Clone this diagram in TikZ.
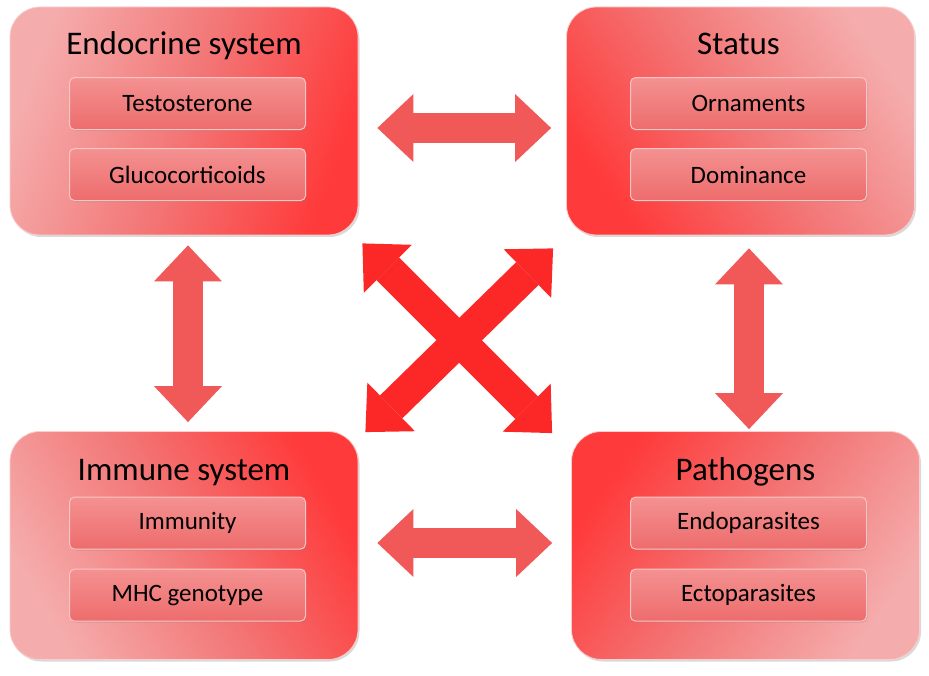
\documentclass[tikz,border=0pt]{standalone}
\usepackage{fontspec}
\setmainfont{Carlito}
\usetikzlibrary{positioning,arrows.meta,shadows}
\definecolor{boxlight}{RGB}{245,172,172}
\definecolor{boxmid}{RGB}{243,118,118}
\definecolor{boxdark}{RGB}{255,58,58}
\definecolor{itemtop}{RGB}{244,145,145}
\definecolor{itembot}{RGB}{238,108,108}
\definecolor{itemedge}{RGB}{250,196,196}
\definecolor{arrowred}{RGB}{241,88,88}
\definecolor{crossred}{RGB}{252,40,40}
\tikzset{
  groupbox/.style={rounded corners=30pt, minimum width=348pt, minimum height=228pt,
    draw=boxlight!60!white, line width=0.8pt, top color=boxdark, bottom color=boxlight,
    middle color=boxmid,
    drop shadow={opacity=0.3, shadow xshift=1.5pt, shadow yshift=-2pt}},
  grouptitle/.style={anchor=base, inner sep=0pt, font=\fontsize{33}{36}\selectfont},
  itembox/.style={rounded corners=5pt, minimum width=236pt, minimum height=52pt,
    draw=itemedge, line width=1pt, top color=itemtop, bottom color=itembot,
    font=\fontsize{25}{28}\selectfont,
    drop shadow={opacity=0.25, shadow xshift=1pt, shadow yshift=-1.5pt}},
  link/.style={line width=30pt, draw=arrowred, {Triangle[width=68pt,length=36pt,line width=0pt]}-{Triangle[width=68pt,length=36pt,line width=0pt]}},
  crosslink/.style={link, draw=crossred, line width=32pt}
}
\begin{document}
\begin{tikzpicture}[x=1pt,y=1pt]
  \useasboundingbox (0,0) rectangle (929,675);
  \node[groupbox, shading angle=-110] (endo) at (184,554) {};
  \node[groupbox, shading angle=125] (status) at (740.5,554) {};
  \node[groupbox, shading angle=-60] (immune) at (184,129.5) {};
  \node[groupbox, shading angle=55] (patho) at (745.5,129.5) {};

  \node[grouptitle] (endoT) at ([yshift=-48pt]endo.north) {Endocrine system};
  \node[grouptitle] (statusT) at ([xshift=-2pt,yshift=-48pt]status.north) {Status};
  \node[grouptitle] (immuneT) at ([yshift=-49pt]immune.north) {Immune system};
  \node[grouptitle] (pathoT) at ([yshift=-49pt]patho.north) {Pathogens};

  \node[itembox] (testo) at ([xshift=3.5pt,yshift=-97pt]endo.north) {Testosterone};
  \node[itembox, below=18pt of testo] (gluco) {Glucocorticoids};
  \node[itembox] (ornam) at ([xshift=8pt,yshift=-97pt]status.north) {Ornaments};
  \node[itembox, below=18pt of ornam] (domin) {Dominance};
  \node[itembox] (immun) at ([xshift=3.5pt,yshift=-92pt]immune.north) {Immunity};
  \node[itembox, below=19pt of immun] (mhc) {MHC genotype};
  \node[itembox] (endop) at ([xshift=3pt,yshift=-92pt]patho.north) {Endoparasites};
  \node[itembox, below=19pt of endop] (ectop) {Ectoparasites};

  \draw[link, shorten <=19pt, shorten >=15pt] ([yshift=-7pt]endo.east) -- ([yshift=-7pt]status.west);
  \draw[link, shorten <=19pt, shorten >=19pt] ([yshift=2.5pt]immune.east) -- ([yshift=2.5pt]patho.west);
  \draw[link, shorten <=10pt, shorten >=9pt] ([xshift=4pt]endo.south) -- ([xshift=4pt]immune.north);
  \draw[link, shorten <=13pt, shorten >=2pt] ([xshift=8.5pt]status.south) -- ([xshift=3.5pt]patho.north);
  \draw[crosslink] ([xshift=7pt,yshift=-1pt]immune.north east) -- ([xshift=-13pt,yshift=-13pt]status.south west);
  \draw[crosslink] ([xshift=4pt,yshift=-8pt]endo.south east) -- ([xshift=-19pt,yshift=-2pt]patho.north west);
\end{tikzpicture}
\end{document}
